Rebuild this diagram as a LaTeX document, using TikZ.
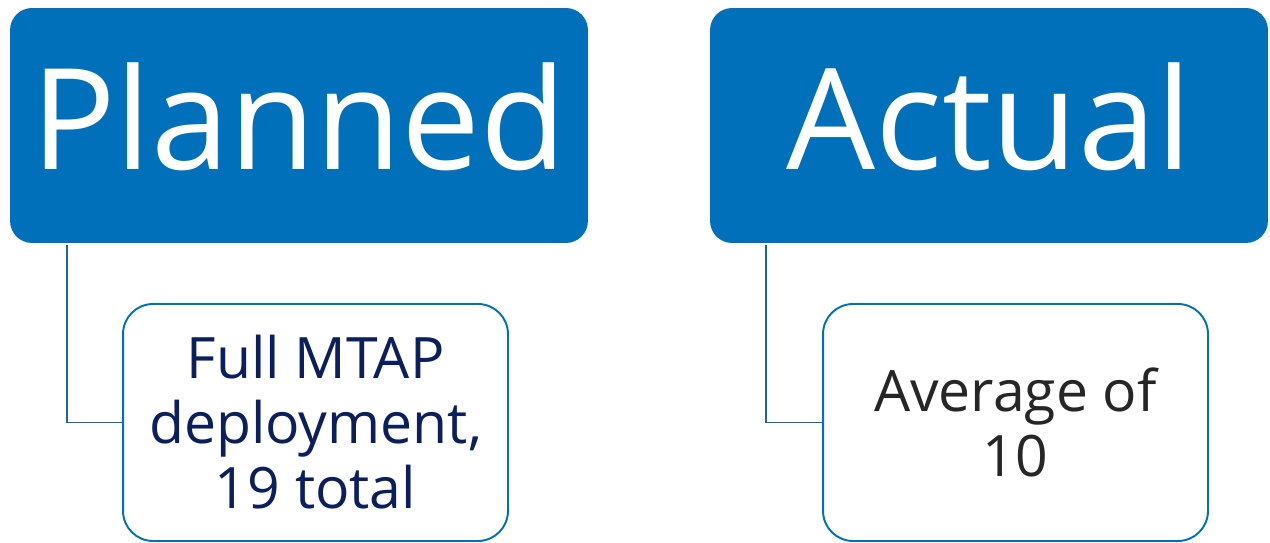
\documentclass[tikz,border=0pt]{standalone}
\usepackage{fontspec}
\setmainfont{Open Sans}
\definecolor{hdrblue}{HTML}{0070BA}
\definecolor{linkblue}{HTML}{1F66A0}
\definecolor{navytext}{HTML}{0B1F5E}
\definecolor{graytext}{HTML}{262626}
\tikzset{
  header/.style={draw=none, fill=hdrblue, rounded corners=0.44cm, text=white,
    font=\fontsize{80}{80}\selectfont, text height=1.78cm, text depth=0pt,
    minimum height=4.7cm, inner sep=0pt},
  detail/.style={draw=hdrblue, line width=1.1pt, fill=white, rounded corners=0.6cm,
    minimum width=7.7cm, minimum height=4.74cm, align=center, inner sep=0pt,
    font=\fontsize{32.5}{37}\selectfont},
  link/.style={draw=linkblue, line width=1.1pt}
}
\begin{document}
\begin{tikzpicture}[x=0.02cm, y=-0.02cm]
    \useasboundingbox (0, 0) rectangle (1270, 543);
    \node [header, minimum width=11.56cm] (planned) at (299, 125.5) {Planned};
    \node [header, minimum width=11.16cm] (actual) at (989, 125.5) {Actual};
    \node [detail, text=navytext] (full) at (315.5, 422.5) {Full MTAP\\deployment,\\19 total};
    \node [detail, text=graytext] (average) at (1015.5, 422.5) {Average of\\10};
    \draw [link] ([xshift=1.14cm, yshift=-0.04cm]planned.south west) |- (full.west);
    \draw [link] ([xshift=1.12cm, yshift=-0.04cm]actual.south west) |- (average.west);
  \end{tikzpicture}
\end{document}
